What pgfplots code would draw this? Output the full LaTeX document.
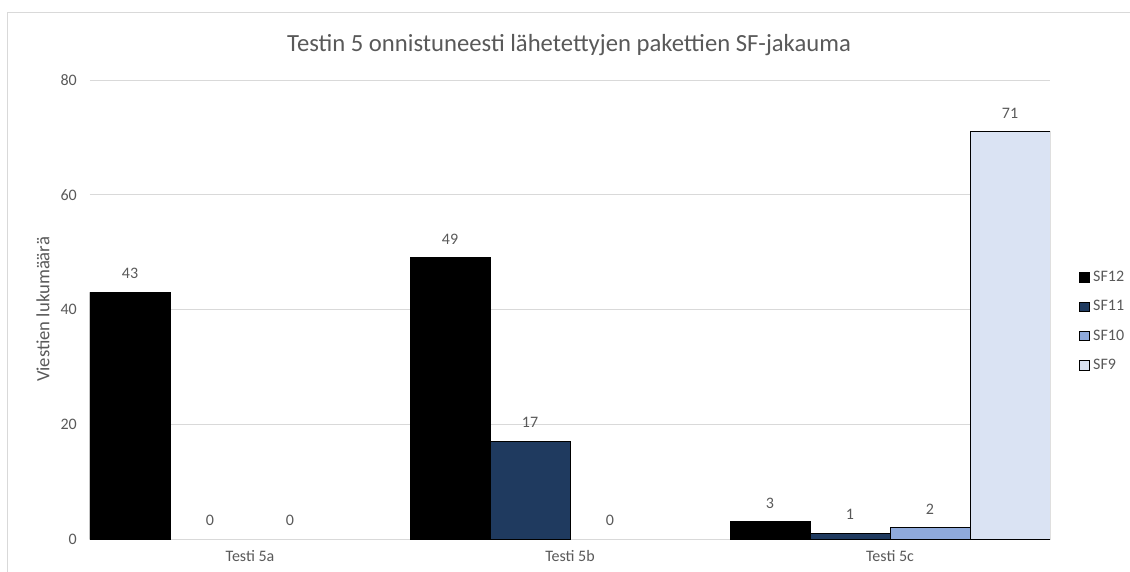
\documentclass[border=0pt]{standalone}
\usepackage{pgfplots}
\pgfplotsset{compat=1.18}
\usepackage{fontspec}
\setmainfont{Carlito}

\definecolor{txt}{HTML}{595959}
\definecolor{gridgray}{HTML}{D9D9D9}
\definecolor{sfA}{HTML}{000000}
\definecolor{sfB}{HTML}{1F3A5F}
\definecolor{sfC}{HTML}{8FAADC}
\definecolor{sfD}{HTML}{DAE3F3}

\newcommand{\tickfont}{\fontsize{12}{14}\selectfont}

\begin{document}
\begin{tikzpicture}
% page area (1 px = 0.75pt), axis box lower-left corner at the origin
\useasboundingbox ({-90*0.75pt},{-32*0.75pt}) rectangle ({1040*0.75pt},{539*0.75pt});
% chart-area frame
\draw[gridgray, line width=0.75pt] ({-82*0.75pt},{-60*0.75pt}) -- ({-82*0.75pt},{526.5*0.75pt}) -- ({1080*0.75pt},{526.5*0.75pt});
\begin{axis}[
  at={(0,0)}, anchor=south west,
  scale only axis, width=720pt, height=344.25pt,
  xmin=-0.5, xmax=2.5, ymin=0, ymax=80,
  /pgf/number format/assume math mode=true,
  ybar, bar width=0.25,
  xtick={0,1,2}, xticklabels={Testi 5a, Testi 5b, Testi 5c},
  ytick={0,20,40,60,80},
  ymajorgrids, grid style={gridgray, line width=0.75pt},
  axis line style={draw=none},
  major tick length=0pt,
  tick style={draw=none},
  ticklabel style={font=\tickfont, text=txt},
  yticklabel style={anchor=east, inner sep=0pt, xshift=-9.75pt},
  xticklabel style={anchor=base, inner sep=0pt, yshift=-17pt},
  ylabel={Viestien lukumäärä},
  every axis y label/.style={at={(axis description cs:-0.049,0.5)}, rotate=90, anchor=center, font=\fontsize{14}{16}\selectfont, text=txt},
  title={Testin 5 onnistuneesti lähetettyjen pakettien SF-jakauma},
  every axis title/.style={at={(axis description cs:0.499,1.0763)}, anchor=center, font=\fontsize{18.5}{22}\selectfont, text=txt},
  nodes near coords,
  every node near coord/.append style={font=\tickfont, text=txt, anchor=south, inner sep=0pt, yshift=9.75pt},
  legend style={at={(axis description cs:1.0302,0.584)}, anchor=north west, draw=none, fill=none,
    font=\tickfont, text=txt, inner sep=0pt, row sep=12.75pt,
    nodes={inner sep=0pt, anchor=west},
    /tikz/every odd column/.append style={column sep=2.5pt}},
  legend cell align=left,
  legend image code/.code={\draw[#1, draw=black, line width=0.75pt] (0pt,-3.5pt) rectangle (7.2pt,3.5pt);},
]
\addplot[fill=sfA, draw=black, line width=0.75pt, bar shift=-0.375] coordinates {(0,43) (1,49) (2,3)};
\addplot[fill=sfB, draw=black, line width=0.75pt, bar shift=-0.125] coordinates {(1,17) (2,1)};
\addplot[fill=sfC, draw=black, line width=0.75pt, bar shift=0.125] coordinates {(2,2)};
\addplot[fill=sfD, draw=black, line width=0.75pt, bar shift=0.375] coordinates {(2,71)};
% zero counts: value labels only, no bar
\addplot[forget plot, draw=none, fill=none, bar shift=-0.125] coordinates {(0,0)};
\addplot[forget plot, draw=none, fill=none, bar shift=0.125] coordinates {(0,0) (1,0)};
\legend{SF12, SF11, SF10, SF9}
\end{axis}
\end{tikzpicture}
\end{document}
